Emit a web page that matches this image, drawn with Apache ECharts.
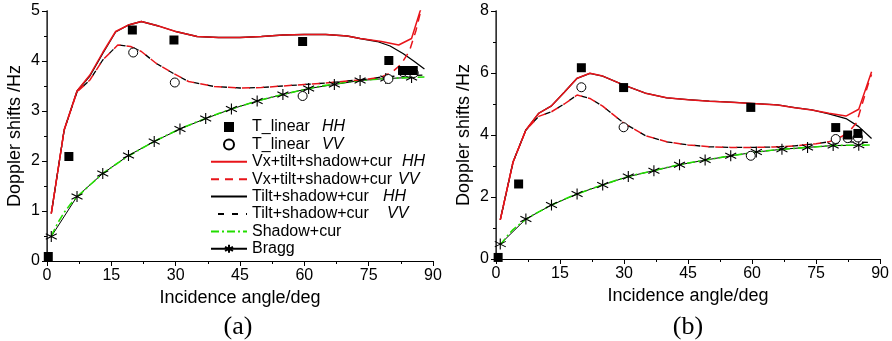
<!DOCTYPE html>
<html><head><meta charset="utf-8">
<script src="https://cdn.jsdelivr.net/npm/echarts@6/dist/echarts.min.js"></script>
<style>html,body{margin:0;padding:0;background:#fff}#c{width:892px;height:341px}</style>
</head><body><div id="c"></div>
<script>
// ---------- tick labels ----------
const xTickVals = [0, 15, 30, 45, 60, 75, 90];
const yTickValsA = [0, 1, 2, 3, 4, 5];
const yTickValsB = [0, 2, 4, 6, 8];

// ---------- panel (a) ----------
const aVxHH_x = [1,4,7,10,13,16,19,22,26,30,35,40,45,50,55,60,65,70,73,78,82,85,87,88];
const aVxHH_y = [0.95,2.62,3.40,3.72,4.17,4.59,4.72,4.79,4.70,4.59,4.49,4.47,4.47,4.49,4.52,4.53,4.53,4.50,4.45,4.39,4.32,4.45,5.0,5.2];
const aTiltHH_x = [1,4,7,10,13,16,19,22,26,30,35,40,45,50,55,60,65,70,73,77,80,83,85.5,88];
const aTiltHH_y = [0.95,2.62,3.40,3.70,4.15,4.58,4.72,4.79,4.70,4.59,4.49,4.47,4.47,4.49,4.52,4.53,4.53,4.50,4.45,4.39,4.30,4.15,4.00,3.84];
const aVxVV_x = [1,4,7,10,13,16.5,19.5,22,25.5,29.5,33,39,45,50,55,60,65,70,75,78,80.5,82.5,84.5,86,87,88];
const aVxVV_y = [0.95,2.62,3.38,3.62,4.02,4.32,4.29,4.19,3.95,3.75,3.59,3.49,3.46,3.47,3.50,3.53,3.56,3.60,3.64,3.68,3.78,3.93,4.20,4.60,4.95,5.30];
const aTiltVV_x = [1,4,7,10,13,16.5,19.5,22,25.5,29.5,33,39,45,50,55,60,65,70,75,78,82,85,88];
const aTiltVV_y = [0.95,2.62,3.38,3.62,4.02,4.32,4.29,4.19,3.95,3.75,3.59,3.49,3.46,3.47,3.50,3.53,3.56,3.60,3.64,3.68,3.70,3.71,3.72];
const aShadow_x = [1,2.5,4,5.5,7,10,13,16,19,22,25,28,31,34,37,40,43,46,49,52,55,58,61,64,67,70,73,76,79,82,85,88];
const aShadow_y = [0.50,0.76,0.97,1.14,1.28,1.52,1.75,1.93,2.10,2.25,2.39,2.52,2.64,2.75,2.85,2.95,3.04,3.12,3.20,3.27,3.33,3.39,3.45,3.50,3.54,3.58,3.61,3.63,3.65,3.66,3.67,3.68];
const aBragg_x = [1,7,13,19,25,31,37,43,49,55,61,67,73,79,85];
const aBragg_y = [0.49,1.29,1.75,2.11,2.39,2.64,2.85,3.04,3.20,3.33,3.45,3.53,3.61,3.65,3.67];
const aTlinHH_x = [0.3,5.1,19.9,29.6,59.6,79.7,82.9,84.2,85.4];
const aTlinHH_y = [0.09,2.09,4.62,4.42,4.39,4.01,3.81,3.81,3.81];
const aTlinVV_x = [20.1,29.8,59.6,79.6,83.0,84.3,85.5];
const aTlinVV_y = [4.17,3.57,3.30,3.64,3.78,3.77,3.76];

// ---------- panel (b) ----------
const bVxHH_x = [1,4,7,10,13,16,19,22,25,30,35,40,45,50,55,60,66,70,74,78,82,85,88];
const bVxHH_y = [1.26,3.13,4.16,4.70,4.94,5.38,5.83,5.99,5.90,5.61,5.35,5.20,5.14,5.09,5.06,5.02,4.97,4.88,4.81,4.70,4.61,4.83,6.04];
const bTiltHH_x = [1,4,7,10,13,16,19,22,25,30,35,40,45,50,55,60,66,70,74,78,82,85,88];
const bTiltHH_y = [1.26,3.13,4.16,4.70,4.94,5.38,5.83,5.99,5.90,5.61,5.35,5.20,5.14,5.09,5.06,5.02,4.97,4.88,4.81,4.68,4.53,4.27,3.89];
const bVxVV_x = [1,4,7,10,13,16,19,22,25,30,35,40,45,50,55,60,65,70,75,78,81,83,84.5,85.5,87.5,88];
const bVxVV_y = [1.26,3.13,4.16,4.60,4.75,5.00,5.29,5.18,4.93,4.38,3.98,3.78,3.68,3.62,3.60,3.60,3.61,3.65,3.72,3.78,3.95,4.15,4.40,4.86,5.77,5.95];
const bTiltVV_x = [1,4,7,10,13,16,19,22,25,30,35,40,45,50,55,60,65,70,75,78,80,84,88];
const bTiltVV_y = [1.26,3.13,4.16,4.60,4.75,5.00,5.29,5.18,4.93,4.38,3.98,3.78,3.68,3.62,3.60,3.60,3.61,3.65,3.72,3.78,3.80,3.77,3.76];
const bShadow_x = [1,2.5,4,5.5,7,10,13,16,19,22,25,28,31,34,37,40,43,46,49,52,55,58,61,64,67,70,73,76,79,82,85,88];
const bShadow_y = [0.45,0.72,0.95,1.12,1.28,1.52,1.74,1.93,2.10,2.25,2.39,2.53,2.66,2.76,2.85,2.95,3.04,3.12,3.19,3.26,3.33,3.39,3.45,3.50,3.54,3.57,3.60,3.63,3.66,3.67,3.67,3.68];
const bBragg_x = [1,7,13,19,25,31,37,43,49,55,61,67,73,79,85];
const bBragg_y = [0.48,1.29,1.74,2.10,2.39,2.66,2.85,3.04,3.19,3.33,3.45,3.54,3.60,3.66,3.67];
const bTlinHH_x = [0.5,5.3,20.0,29.9,59.7,79.6,82.4,84.8];
const bTlinHH_y = [0.05,2.42,6.17,5.53,4.89,4.24,4.00,4.05];
const bTlinVV_x = [20.0,29.9,59.7,79.6,82.4,84.8];
const bTlinVV_y = [5.54,4.25,3.33,3.87,3.90,3.92];

// ---------- names ----------
const N_TH = 'T_linear HH', N_TV = 'T_linear VV',
      N_VH = 'Vx+tilt+shadow+cur HH', N_VV = 'Vx+tilt+shadow+cur VV',
      N_SH = 'Tilt+shadow+cur HH', N_SV = 'Tilt+shadow+cur VV',
      N_SC = 'Shadow+cur', N_BR = 'Bragg';
const xName = 'Incidence angle/deg', yName = 'Doppler shifts /Hz';
const panelLabels = ['(a)', '(b)'];

const zip = (xs, ys) => xs.map((x, i) => [x, ys[i]]);
const RED = '#e8141a', GREEN = '#22dd00', BLK = '#000';
const STAR = 'path://M0,-5L0,5M-4.33,-2.5L4.33,2.5M-4.33,2.5L4.33,-2.5';
const SQUARE = 'path://M0,0L10,0L10,10L0,10Z';
const FONT = 'Liberation Sans';

function lineS(name, xs, ys, color, type, width, gi, z, dashOffset) {
  return { name, type: 'line', xAxisIndex: gi, yAxisIndex: gi, data: zip(xs, ys),
    symbol: 'none', showSymbol: false, z, clip: true, animation: false,
    lineStyle: { color, width, type, dashOffset: dashOffset || 0 }, itemStyle: { color } };
}
function panel(gi, d) {
  return [
    lineS(N_BR, d.br[0], d.br[1], BLK, 'solid', 1, gi, 2),
    lineS(N_SC, d.sc[0], d.sc[1], GREEN, [8, 3, 2, 3], 1.6, gi, 3),
    lineS(N_SH, d.sh[0], d.sh[1], BLK, 'solid', 1.3, gi, 4),
    lineS(N_SV, d.sv[0], d.sv[1], BLK, [6, 8], 1.3, gi, 4, 7),
    lineS(N_VH, d.vh[0], d.vh[1], RED, 'solid', 1.5, gi, 5),
    lineS(N_VV, d.vv[0], d.vv[1], RED, [8, 6], 1.5, gi, 5, 0),
    { name: N_BR, type: 'scatter', xAxisIndex: gi, yAxisIndex: gi, data: zip(d.br[0], d.br[1]),
      symbol: STAR, symbolSize: 11, z: 6, animation: false,
      itemStyle: { color: BLK, borderColor: BLK, borderWidth: 1.1, opacity: 1 } },
    { name: N_TV, type: 'scatter', xAxisIndex: gi, yAxisIndex: gi, data: zip(d.tv[0], d.tv[1]),
      symbol: 'circle', symbolSize: 9, z: 7, animation: false,
      itemStyle: { color: '#fff', borderColor: BLK, borderWidth: 1, opacity: 1 } },
    { name: N_TH, type: 'scatter', xAxisIndex: gi, yAxisIndex: gi, data: zip(d.th[0], d.th[1]),
      symbol: 'rect', symbolSize: 9, z: 8, animation: false,
      itemStyle: { color: BLK, opacity: 1 } }
  ];
}

const series = [].concat(
  panel(0, { br: [aBragg_x, aBragg_y], sc: [aShadow_x, aShadow_y], sh: [aTiltHH_x, aTiltHH_y],
             sv: [aTiltVV_x, aTiltVV_y], vh: [aVxHH_x, aVxHH_y], vv: [aVxVV_x, aVxVV_y],
             tv: [aTlinVV_x, aTlinVV_y], th: [aTlinHH_x, aTlinHH_y] }),
  panel(1, { br: [bBragg_x, bBragg_y], sc: [bShadow_x, bShadow_y], sh: [bTiltHH_x, bTiltHH_y],
             sv: [bTiltVV_x, bTiltVV_y], vh: [bVxHH_x, bVxHH_y], vv: [bVxVV_x, bVxVV_y],
             tv: [bTlinVV_x, bTlinVV_y], th: [bTlinHH_x, bTlinHH_y] })
);
// legend-only entry: line with star for Bragg
series.push({ name: N_BR + ' ', type: 'line', xAxisIndex: 0, yAxisIndex: 0, data: [],
  symbol: STAR, symbolSize: 10, lineStyle: { color: BLK, width: 1 },
  itemStyle: { color: BLK, borderColor: BLK, borderWidth: 1 } });

const grids = [
  { left: 47, top: 11, width: 386, height: 250 },
  { left: 496, top: 11, width: 386, height: 248 }
];
const axLine = { show: true, lineStyle: { color: '#000', width: 1 } };
const lbl = { color: '#000', fontSize: 16, fontFamily: FONT, margin: 7 };

function xMain(gi) {
  return { type: 'value', gridIndex: gi, min: xTickVals[0], max: xTickVals[xTickVals.length - 1],
    interval: xTickVals[1] - xTickVals[0], position: 'bottom',
    axisLine: axLine, axisTick: { show: true, inside: false, length: 5, lineStyle: { color: '#000' } },
    minorTick: { show: true, splitNumber: 2, length: 3, lineStyle: { color: '#000' } },
    splitLine: { show: false }, axisLabel: lbl,
    name: xName, nameLocation: 'middle', nameGap: 27,
    nameTextStyle: { color: '#000', fontSize: 18, fontFamily: FONT } };
}
function xTop(gi) {
  return { type: 'value', gridIndex: gi, min: 0, max: 90, interval: 15, position: 'top',
    axisLine: axLine, axisTick: { show: true, inside: true, length: 4, lineStyle: { color: '#000' } },
    minorTick: { show: true, splitNumber: 2, length: 2, lineStyle: { color: '#000' } },
    splitLine: { show: false }, axisLabel: { show: false } };
}
function yMain(gi, ticks) {
  return { type: 'value', gridIndex: gi, min: ticks[0], max: ticks[ticks.length - 1],
    interval: ticks[1] - ticks[0], position: 'left',
    axisLine: axLine, axisTick: { show: true, inside: false, length: 5, lineStyle: { color: '#000' } },
    minorTick: { show: true, splitNumber: 2, length: 3, lineStyle: { color: '#000' } },
    splitLine: { show: false }, axisLabel: lbl,
    name: yName, nameLocation: 'middle', nameGap: 23,
    nameTextStyle: { color: '#000', fontSize: 18, fontFamily: FONT } };
}
function yRight(gi, ticks) {
  return { type: 'value', gridIndex: gi, min: ticks[0], max: ticks[ticks.length - 1],
    interval: ticks[1] - ticks[0], position: 'right',
    axisLine: { show: true, lineStyle: { color: '#444', width: 1.5 } },
    axisTick: { show: true, inside: true, length: 4, lineStyle: { color: '#000' } },
    minorTick: { show: true, splitNumber: 2, length: 2, lineStyle: { color: '#000' } },
    splitLine: { show: false }, axisLabel: { show: false } };
}

const richBase = { fontSize: 16, fontFamily: FONT, color: '#000', lineHeight: 17 };
const rich = {
  t1: Object.assign({ width: 70 }, richBase),
  v1: Object.assign({ width: 150 }, richBase),
  v2: Object.assign({ width: 146 }, richBase),
  s1: Object.assign({ width: 131 }, richBase),
  s2: Object.assign({ width: 135 }, richBase),
  n: Object.assign({}, richBase),
  p: Object.assign({ fontStyle: 'italic' }, richBase)
};
const richKey = { [N_TH]: 't1', [N_TV]: 't1', [N_VH]: 'v1', [N_VV]: 'v2', [N_SH]: 's1', [N_SV]: 's2' };
const noSym = { color: 'transparent', borderWidth: 0, borderColor: 'transparent' };

const option = {
  backgroundColor: '#fff',
  animation: false,
  grid: grids,
  xAxis: [xMain(0), xMain(1), xTop(0), xTop(1)],
  yAxis: [yMain(0, yTickValsA), yMain(1, yTickValsB), yRight(0, yTickValsA), yRight(1, yTickValsB)],
  legend: {
    orient: 'vertical', left: 205, top: 114, padding: 5, itemWidth: 36, itemHeight: 10, itemGap: 1.4,
    selectedMode: false,
    data: [
      { name: N_TH, icon: SQUARE },
      { name: N_TV, icon: 'circle' },
      { name: N_VH, itemStyle: noSym },
      { name: N_VV, itemStyle: noSym },
      { name: N_SH, itemStyle: noSym },
      { name: N_SV, itemStyle: noSym },
      { name: N_SC, itemStyle: noSym },
      { name: N_BR + ' ' }
    ],
    textStyle: { fontSize: 16, fontFamily: FONT, color: '#000', rich },
    formatter: function (name) {
      if (richKey[name]) {
        const i = name.lastIndexOf(' ');
        return '{' + richKey[name] + '|' + name.slice(0, i) + '}{p|' + name.slice(i + 1) + '}';
      }
      return '{n|' + name.trim() + '}';
    }
  },
  graphic: [
    { type: 'text', x: 238, y: 327, style: { text: panelLabels[0], font: '26px "Liberation Serif"', fill: '#000', align: 'center', verticalAlign: 'middle' } },
    { type: 'text', x: 688, y: 327, style: { text: panelLabels[1], font: '26px "Liberation Serif"', fill: '#000', align: 'center', verticalAlign: 'middle' } }
  ],
  series
};
const chart = echarts.init(document.getElementById('c'), null, { renderer: 'canvas' });
chart.setOption(option);
</script></body></html>
